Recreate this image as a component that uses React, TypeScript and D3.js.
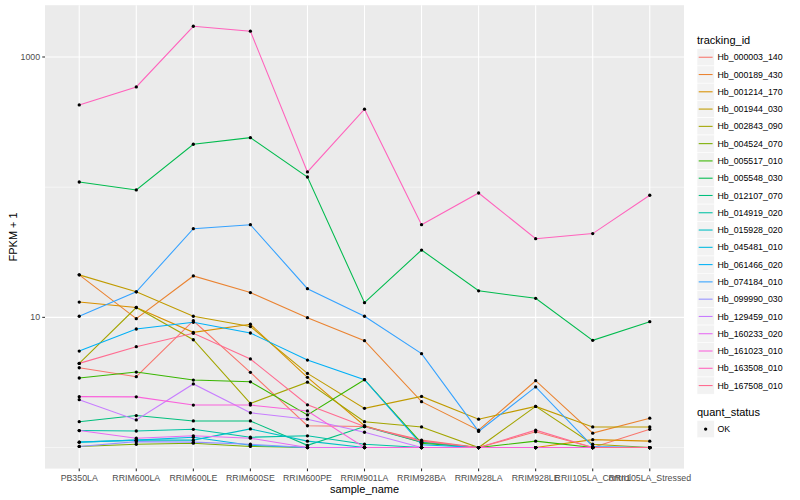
import React from 'react';
import * as d3 from 'd3';

const samples = [
  'PB350LA', 'RRIM600LA', 'RRIM600LE', 'RRIM600SE', 'RRIM600PE', 'RRIM901LA',
  'RRIM928BA', 'RRIM928LA', 'RRIM928LE', 'RRII105LA_Control', 'RRII105LA_Stressed',
];

const trackingIds = [
  'Hb_000003_140', 'Hb_000189_430', 'Hb_001214_170', 'Hb_001944_030', 'Hb_002843_090',
  'Hb_004524_070', 'Hb_005517_010', 'Hb_005548_030', 'Hb_012107_070', 'Hb_014919_020',
  'Hb_015928_020', 'Hb_045481_010', 'Hb_061466_020', 'Hb_074184_010', 'Hb_099990_030',
  'Hb_129459_010', 'Hb_160233_020', 'Hb_161023_010', 'Hb_163508_010', 'Hb_167508_010',
];

// FPKM + 1 per sample, one array per tracking_id
const hb_000003_140 = [4.1, 3.5, 9.42, 3.78, 1.47, 1.45, 1.14, 1, 1.32, 1, 1.38];
const hb_000189_430 = [21.2, 9.77, 20.8, 15.5, 9.94, 6.62, 2.25, 1.36, 3.26, 1.29, 1.68];
const hb_001214_170 = [13.1, 11.9, 7.67, 8.85, 3.46, 1.47, 1.1, 1, 1, 1.15, 1.12];
const hb_001944_030 = [21.2, 15.7, 10.2, 8.5, 3.71, 2.0, 2.47, 1.65, 2.07, 1.44, 1.44];
const hb_002843_090 = [4.43, 11.9, 6.73, 2.18, 3.18, 1.58, 1.44, 1, 2.07, 1.06, 1];
const hb_004524_070 = [1.02, 1.06, 1.08, 1.02, 1, 1, 1, 1, 1, 1, 1];
const hb_005517_010 = [3.42, 3.8, 3.3, 3.2, 1.78, 3.32, 1.08, 1, 1.12, 1, 1];
const hb_005548_030 = [109.6, 95.2, 213.7, 240, 119.7, 12.96, 32.9, 16.0, 14.0, 6.66, 9.26];
const hb_012107_070 = [1.58, 1.76, 1.6, 1.6, 1.04, 1.45, 1.1, 1, 1, 1, 1];
const hb_014919_020 = [1.35, 1.34, 1.38, 1.2, 1.23, 1.06, 1, 1, 1, 1, 1];
const hb_015928_020 = [1.1, 1.14, 1.14, 1.39, 1.12, 1, 1, 1, 1, 1, 1];
const hb_045481_010 = [1.1, 1.14, 1.2, 1.04, 1, 1, 1, 1, 1, 1, 1];
const hb_061466_020 = [5.51, 8.14, 9.16, 7.58, 4.7, 3.32, 1.05, 1, 1, 1, 1];
const hb_074184_010 = [10.2, 15.7, 48, 51.5, 16.6, 10.2, 5.26, 1.33, 2.92, 1.02, 1];
const hb_099990_030 = [1.02, 1.11, 1.1, 1.06, 1, 1, 1, 1, 1, 1, 1];
const hb_129459_010 = [2.33, 1.63, 3.08, 1.85, 1.65, 1.31, 1, 1, 1, 1, 1];
const hb_160233_020 = [1.35, 1.18, 1.23, 1.18, 1, 1, 1, 1, 1, 1, 1];
const hb_161023_010 = [2.46, 2.45, 2.12, 2.12, 1.91, 1, 1, 1, 1, 1, 1];
const hb_163508_010 = [428, 589, 1722, 1578, 131, 397, 51.5, 90.2, 40.2, 44, 86.7];
const hb_167508_010 = [4.43, 5.95, 7.54, 4.79, 2.13, 1.45, 1.12, 1, 1.36, 1, 1];

const seriesValues = [
  hb_000003_140, hb_000189_430, hb_001214_170, hb_001944_030, hb_002843_090,
  hb_004524_070, hb_005517_010, hb_005548_030, hb_012107_070, hb_014919_020,
  hb_015928_020, hb_045481_010, hb_061466_020, hb_074184_010, hb_099990_030,
  hb_129459_010, hb_160233_020, hb_161023_010, hb_163508_010, hb_167508_010,
];

const yTickValues = [10, 1000];
const yMinorValues = [1, 100];
const quantStatus = ['OK'];

const palette = [
  '#F8766D', '#EA8331', '#D89000', '#C09B00', '#A3A500', '#7CAE00', '#39B600', '#00BB4E',
  '#00BF7D', '#00C1A3', '#00BFC4', '#00BAE0', '#00B0F6', '#35A2FF', '#9590FF', '#C77CFF',
  '#E76BF3', '#FA62DB', '#FF62BC', '#FF6C91',
];

const FONT = '"Liberation Sans", Arial, Helvetica, sans-serif';

export default function App() {
  const W = 800;
  const H = 500;
  const panel = { left: 45, right: 684, top: 5.2, bottom: 468.6 };

  const x = d3.scalePoint<string>().domain(samples).range([panel.left, panel.right]).padding(0.6);

  const all = seriesValues.flat();
  const [lo, hi] = d3.extent(all.map((v) => Math.log10(v))) as [number, number];
  const pad = (hi - lo) * 0.05;
  const y = d3.scaleLog().domain([Math.pow(10, lo - pad), Math.pow(10, hi + pad)]).range([panel.bottom, panel.top]);

  const color = d3.scaleOrdinal<string, string>().domain(trackingIds).range(palette);

  const line = d3
    .line<number>()
    .x((_, i) => x(samples[i]) as number)
    .y((d) => y(d));

  const legendX = 697;
  const keyH = 17.28;
  const keyTop = 48.6;
  const qsTitleY = 416;
  const qsKeyTop = 420.4;

  return (
    <svg
      width={W}
      height={H}
      style={{ position: 'absolute', left: 0, top: 0, background: '#fff' }}
      fontFamily={FONT}
    >
      <rect x={0} y={0} width={W} height={H} fill="#fff" />
      {/* panel */}
      <rect
        x={panel.left}
        y={panel.top}
        width={panel.right - panel.left}
        height={panel.bottom - panel.top}
        fill="#EBEBEB"
      />
      {yMinorValues.map((v) => (
        <line key={'ym' + v} x1={panel.left} x2={panel.right} y1={y(v)} y2={y(v)} stroke="#fff" strokeWidth={0.53} />
      ))}
      {yTickValues.map((v) => (
        <line key={'yg' + v} x1={panel.left} x2={panel.right} y1={y(v)} y2={y(v)} stroke="#fff" strokeWidth={1.07} />
      ))}
      {samples.map((s) => (
        <line key={'xg' + s} x1={x(s)} x2={x(s)} y1={panel.top} y2={panel.bottom} stroke="#fff" strokeWidth={1.07} />
      ))}

      {/* lines */}
      {seriesValues.map((vals, i) => (
        <path key={'l' + i} d={line(vals) || ''} fill="none" stroke={color(trackingIds[i])} strokeWidth={1.07} />
      ))}
      {/* points */}
      {seriesValues.map((vals, i) =>
        vals.map((v, j) => <circle key={'p' + i + '_' + j} cx={x(samples[j])} cy={y(v)} r={1.65} fill="#000" />)
      )}

      {/* y axis */}
      {yTickValues.map((v) => (
        <g key={'yt' + v}>
          <line x1={panel.left - 2.75} x2={panel.left} y1={y(v)} y2={y(v)} stroke="#333" strokeWidth={1.07} />
          <text x={panel.left - 4.9} y={y(v)} dy="0.35em" textAnchor="end" fontSize={8.8} fill="#4D4D4D">
            {v}
          </text>
        </g>
      ))}
      {/* x axis */}
      {samples.map((s) => (
        <g key={'xt' + s}>
          <line x1={x(s)} x2={x(s)} y1={panel.bottom} y2={panel.bottom + 2.75} stroke="#333" strokeWidth={1.07} />
          <text x={x(s)} y={panel.bottom + 12} textAnchor="middle" fontSize={8.8} fill="#4D4D4D">
            {s}
          </text>
        </g>
      ))}
      <text x={(panel.left + panel.right) / 2} y={493} textAnchor="middle" fontSize={11} fill="#000">
        sample_name
      </text>
      <text
        transform={`translate(16.5, ${(panel.top + panel.bottom) / 2}) rotate(-90)`}
        textAnchor="middle"
        fontSize={11}
        fill="#000"
      >
        FPKM + 1
      </text>

      {/* legend: tracking_id */}
      <text x={legendX} y={44} fontSize={11} fill="#000">
        tracking_id
      </text>
      {trackingIds.map((id, i) => {
        const top = keyTop + i * keyH;
        return (
          <g key={'lg' + id}>
            <rect x={legendX} y={top} width={17.28} height={keyH} fill="#F2F2F2" stroke="#fff" strokeWidth={0.6} />
            <line
              x1={legendX + 1.7}
              x2={legendX + 15.6}
              y1={top + keyH / 2}
              y2={top + keyH / 2}
              stroke={color(id)}
              strokeWidth={1.07}
            />
            <text x={legendX + 20.5} y={top + keyH / 2} dy="0.35em" fontSize={8.8} fill="#000">
              {id}
            </text>
          </g>
        );
      })}

      {/* legend: quant_status */}
      <text x={legendX} y={qsTitleY} fontSize={11} fill="#000">
        quant_status
      </text>
      {quantStatus.map((q, i) => {
        const top = qsKeyTop + i * keyH;
        return (
          <g key={'qs' + q}>
            <rect x={legendX} y={top} width={17.28} height={keyH} fill="#F2F2F2" stroke="#fff" strokeWidth={0.6} />
            <circle cx={legendX + 8.64} cy={top + keyH / 2} r={1.65} fill="#000" />
            <text x={legendX + 20.5} y={top + keyH / 2} dy="0.35em" fontSize={8.8} fill="#000">
              {q}
            </text>
          </g>
        );
      })}
    </svg>
  );
}
